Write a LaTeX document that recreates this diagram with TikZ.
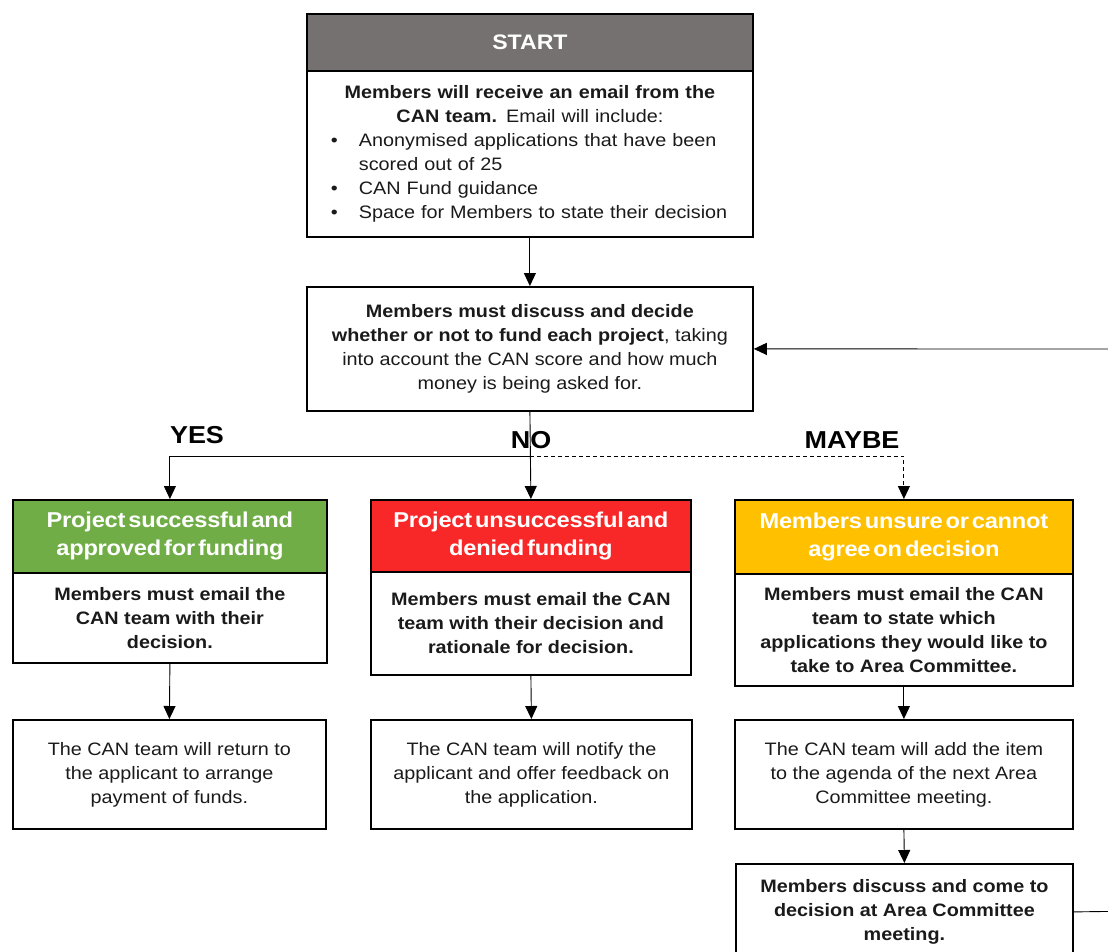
\documentclass[tikz,border=0pt]{standalone}
\usepackage{fontspec}
\setmainfont{Liberation Sans}[FakeStretch=1.1]
\newfontfamily\headfont{Liberation Sans}[FakeStretch=1.1,LetterSpace=-1,WordSpace=0.45]
\usetikzlibrary{arrows.meta}
\definecolor{hdgray}{HTML}{767171}
\definecolor{hdgreen}{HTML}{70AD47}
\definecolor{hdred}{HTML}{F92828}
\definecolor{hdyellow}{HTML}{FFC000}
\definecolor{txt}{HTML}{1A1A1A}
\begin{document}
\begin{tikzpicture}[x=1pt,y=-1pt,
  frame/.style={draw=black, line width=1.8pt, inner sep=0pt, anchor=north west, align=center, text=txt,
    font=\fontsize{18}{24}\selectfont},
  boldframe/.style={frame, font=\bfseries\fontsize{18}{24}\selectfont},
  hdr/.style={frame, text=white, font=\headfont\bfseries\fontsize{21.5}{28}\selectfont},
  arr/.style={line width=0.9pt, -{Triangle[length=13pt,width=12pt]}},
  lbl/.style={font=\bfseries\fontsize{24.5}{28}\selectfont, text=black, inner sep=0pt}
]
\useasboundingbox (0,0) rectangle (1108,951);

% START
\node[hdr, fill=hdgray, minimum width=446, minimum height=57, font=\bfseries\fontsize{21}{24}\selectfont] (starth) at (306,13) {START};
\node[frame, minimum width=446, minimum height=166, text width=420pt, align=left] (startb) at (306,70) {%
{\centering{\bfseries Members will receive an email from the}\par{\bfseries CAN team.} Email will include:\par}
\raggedright
\hspace*{11pt}\makebox[28pt][l]{\textbullet}Anonymised applications that have been\par
\hspace*{39pt}scored out of 25\par
\hspace*{11pt}\makebox[28pt][l]{\textbullet}CAN Fund guidance\par
\hspace*{11pt}\makebox[28pt][l]{\textbullet}Space for Members to state their decision\par};

% main decision
\node[frame, minimum width=446, minimum height=124] (main) at (306,286) {%
\textbf{Members must discuss and decide}\\
\textbf{whether or not to fund each project}, taking\\
into account the CAN score and how much\\
money is being asked for.};

% YES column
\node[hdr, fill=hdgreen, minimum width=314, minimum height=73] (greenh) at (12,499) {Project successful and\\approved for funding};
\node[boldframe, minimum width=314, minimum height=90] (greenb) at (12,572) {Members must email the\\CAN team with their\\decision.};
\node[frame, minimum width=313, minimum height=109] (green2) at (12,719) {The CAN team will return to\\the applicant to arrange\\payment of funds.};

% NO column
\node[hdr, fill=hdred, minimum width=320, minimum height=72] (redh) at (370,499) {Project unsuccessful and\\denied funding};
\node[boldframe, minimum width=320, minimum height=103] (redb) at (370,571) {Members must email the CAN\\team with their decision and\\rationale for decision.};
\node[frame, minimum width=321, minimum height=109] (red2) at (370,719) {The CAN team will notify the\\applicant and offer feedback on\\the application.};

% MAYBE column
\node[hdr, fill=hdyellow, minimum width=338, minimum height=74] (yellowh) at (734,499) {Members unsure or cannot\\agree on decision};
\node[boldframe, minimum width=338, minimum height=112] (yellowb) at (734,573) {Members must email the CAN\\team to state which\\applications they would like to\\take to Area Committee.};
\node[frame, minimum width=338, minimum height=109] (yellow2) at (734,719) {The CAN team will add the item\\to the agenda of the next Area\\Committee meeting.};
\node[boldframe, minimum width=337, minimum height=96] (final) at (735,863) {Members discuss and come to\\decision at Area Committee\\meeting.};

% labels
\node[lbl] (yes) at (197,435) {YES};
\node[lbl] (no) at (531,440) {NO};
\node[lbl] (maybe) at (852,440) {MAYBE};

% connectors
\coordinate (br) at (530,456);
\coordinate (loopa) at (1140,911);
\coordinate (loopb) at (1140,349);
\draw[arr] (startb.south) -- (main.north);
\draw[arr] (main.south) -- (redh.north);
\draw[arr] (br) -| (greenh.north);
\draw[arr, dash pattern=on 4pt off 3pt] (br) -| (yellowh.north);
\draw[arr] (greenb.south) -- (green2.north);
\draw[arr] (redb.south) -- (red2.north);
\draw[arr] (yellowb.south) -- (yellow2.north);
\draw[arr] (yellow2.south) -- (final.north);
\draw[arr] (final.east) -- (loopa) -- (loopb) -- (main.east);
\end{tikzpicture}
\end{document}
